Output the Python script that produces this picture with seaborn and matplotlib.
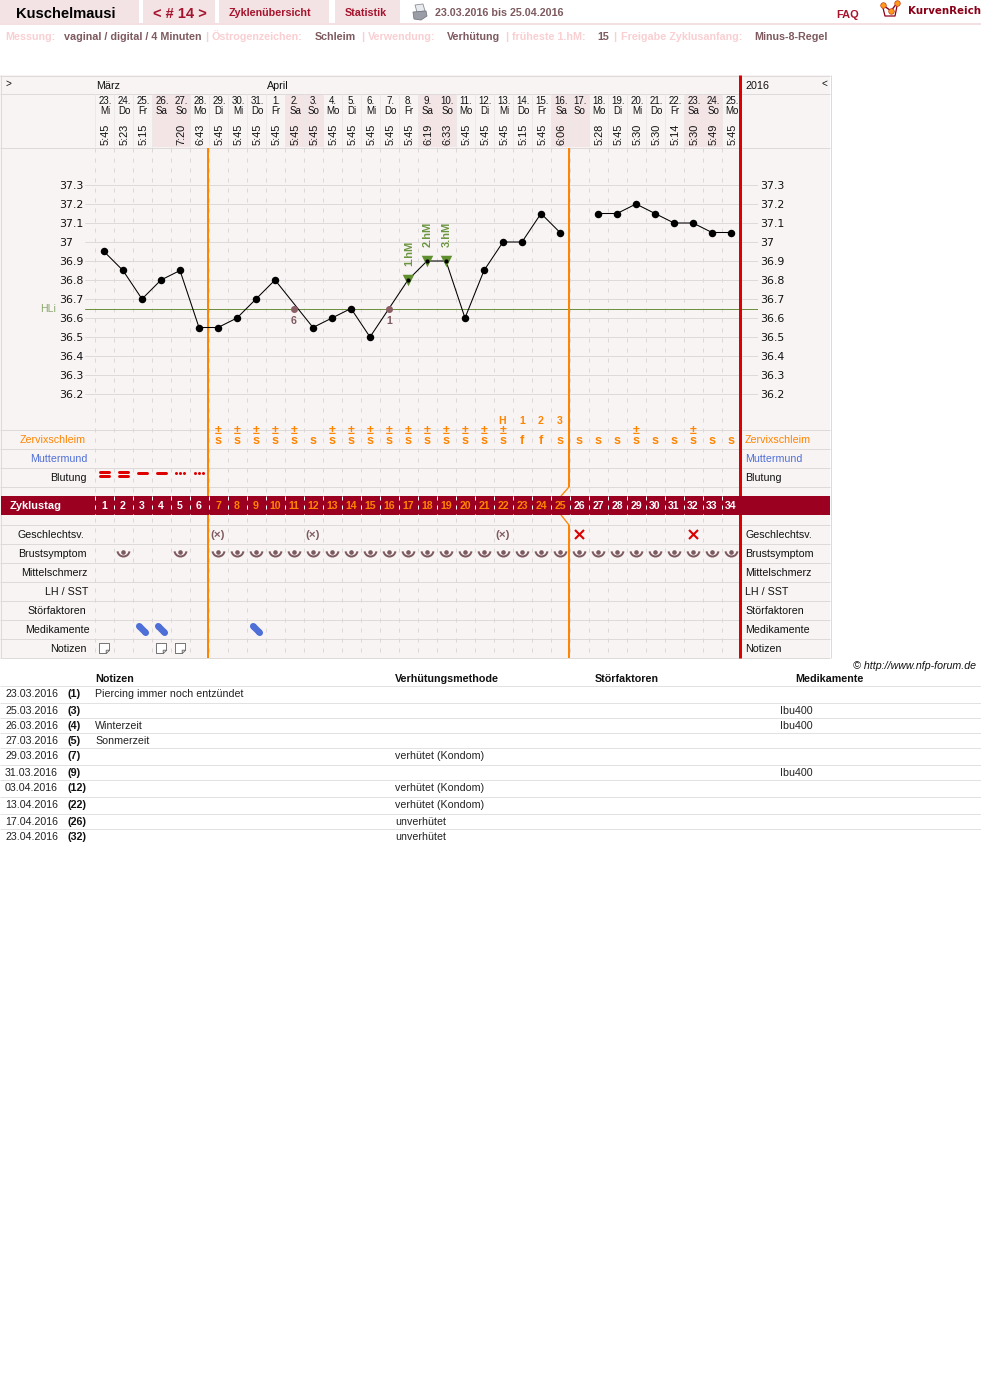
import numpy as np
import pandas as pd
import matplotlib
matplotlib.use("Agg")
import matplotlib.pyplot as plt
from matplotlib.path import Path
from matplotlib.patches import Rectangle, Polygon
from matplotlib.transforms import Affine2D
import seaborn as sns

# ---------- data ----------
cycle_days = list(range(1, 35))
month_days = [23, 24, 25, 26, 27, 28, 29, 30, 31, 1, 2, 3, 4, 5, 6, 7, 8, 9, 10, 11, 12, 13, 14, 15, 16, 17, 18, 19, 20, 21, 22, 23, 24, 25]
weekdays = ["Mi", "Do", "Fr", "Sa", "So", "Mo", "Di", "Mi", "Do", "Fr", "Sa", "So", "Mo", "Di", "Mi", "Do", "Fr", "Sa", "So", "Mo", "Di", "Mi", "Do", "Fr", "Sa", "So", "Mo", "Di", "Mi", "Do", "Fr", "Sa", "So", "Mo"]
times = ["5:45", "5:23", "5:15", "", "7:20", "6:43", "5:45", "5:45", "5:45", "5:45", "5:45", "5:45", "5:45", "5:45", "5:45", "5:45", "5:45", "6:19", "6:33", "5:45", "5:45", "5:45", "5:15", "5:45", "6:06", "", "5:28", "5:45", "5:30", "5:30", "5:14", "5:30", "5:49", "5:45"]
temps = [36.95, 36.85, 36.70, 36.80, 36.85, 36.55, 36.55, 36.60, 36.70, 36.80, np.nan, 36.55, 36.60, 36.65, 36.50, np.nan, 36.80, 36.90, 36.90, 36.60, 36.85, 37.00, 37.00, 37.15, 37.05, np.nan, 37.15, 37.15, 37.20, 37.15, 37.10, 37.10, 37.05, 37.05]
gap_days = [26]
excluded_days = [11, 16]
excluded_temps = [36.65, 36.65]
excluded_labels = ["6", "1"]
hm_days = [17, 18, 19]
hm_labels = ["1.hM", "2.hM", "3.hM"]
hm_temps = [36.80, 36.90, 36.90]
cover_line = 36.645
y_ticks = [37.3, 37.2, 37.1, 37.0, 36.9, 36.8, 36.7, 36.6, 36.5, 36.4, 36.3, 36.2]
y_labels = ["37.3", "37.2", "37.1", "37", "36.9", "36.8", "36.7", "36.6", "36.5", "36.4", "36.3", "36.2"]
mucus = ["", "", "", "", "", "", "s+", "s+", "s+", "s+", "s+", "s", "s+", "s+", "s+", "s+", "s+", "s+", "s+", "s+", "s+", "s+", "f", "f", "s", "s", "s", "s", "s+", "s", "s", "s+", "s", "s"]
peak_days = [22, 23, 24, 25]
peak_labels = ["H", "1", "2", "3"]
bleed_heavy = [1, 2]
bleed_medium = [3, 4]
bleed_light = [5, 6]
sex_protected = [7, 12, 22]
sex_unprotected = [26, 32]
breast_days = [2, 5] + list(range(7, 35))
med_days = [3, 4, 9]
note_days = [1, 4, 5]
orange_days = list(range(7, 26))
row_names = ["Zervixschleim", "Muttermund", "Blutung", "Geschlechtsv.", "Brustsymptom", "Mittelschmerz", "LH / SST", "Störfaktoren", "Medikamente", "Notizen"]
table_dates = ["23.03.2016", "25.03.2016", "26.03.2016", "27.03.2016", "29.03.2016", "31.03.2016", "03.04.2016", "13.04.2016", "17.04.2016", "23.04.2016"]
table_days = ["(1)", "(3)", "(4)", "(5)", "(7)", "(9)", "(12)", "(22)", "(26)", "(32)"]
table_notes = ["Piercing immer noch entzündet", "", "Winterzeit", "Sonmerzeit", "", "", "", "", "", ""]
table_methods = ["", "", "", "", "verhütet (Kondom)", "", "verhütet (Kondom)", "verhütet (Kondom)", "unverhütet", "unverhütet"]
table_meds = ["", "Ibu400", "Ibu400", "", "", "Ibu400", "", "", "", ""]

# ---------- style ----------
sns.set_theme(style="white")
plt.rcParams["font.family"] = ["Liberation Sans", "DejaVu Sans"]
plt.rcParams["axes.linewidth"] = 0

W, H = 981, 1377
PANEL = "#f9f4f4"
WEEKEND = "#f3e4e6"
GRID = "#dcd8d8"
ORANGE = "#ff8400"
RED = "#dd0000"
WINE = "#9c0021"
MAUVE = "#7d5a5f"
PALE = "#f9cfd2"
BLUE = "#4f6fd8"
GREEN = "#5f8f2f"
PX = 0.72

fig = plt.figure(figsize=(W / 100, H / 100), dpi=100, facecolor="white")
page = fig.add_axes([0, 0, 1, 1])
page.set_xlim(0, W)
page.set_ylim(H, 0)
page.axis("off")


def dx(d):
    return 104 + 19 * (np.asarray(d, dtype=float) - 1)


def T(x, y, s, size=10.65, color="#111111", weight="normal", ha="left", **kw):
    """Text whose visual centre sits at y (sizes in px)."""
    return page.text(x, y + size * 0.36, s, fontsize=size * PX, color=color, fontweight=weight,
                     ha=ha, va="baseline", **kw)


def rect(x0, y0, x1, y1, color, z=1):
    page.add_patch(Rectangle((x0, y0), x1 - x0, y1 - y0, facecolor=color, edgecolor="none", zorder=z))


# ---------- top bar ----------
for x0, x1 in [(0, 139), (143, 215), (219, 329), (335, 400)]:
    rect(x0, 0, x1, 23, "#f3e3e5")
rect(0, 23, W, 25, "#f4dfe2")
T(16, 12.5, "Kuschelmausi", 14.8, "#000000", "bold")
T(153, 12.5, "< # 14 >", 14.6, "#a5142c", "bold")
T(229, 12, "Zyklenübersicht", 10.8, "#a5142c", "bold")
T(345, 12, "Statistik", 10.8, "#a5142c", "bold")
T(435, 12, "23.03.2016 bis 25.04.2016", 10.8, MAUVE, "bold")
T(836, 14, "FAQ", 11, "#a5142c", "bold")
page.text(908, 13.5, "KurvenReich", fontsize=10.3 * PX, color="#8b0018", fontweight="bold",
          family=["DejaVu Sans"], ha="left", va="baseline")
# printer icon
page.add_patch(Polygon([(415, 5), (423, 4), (425, 11), (417, 12)], fc="#e8eaee", ec="#8a8f99", lw=0.6, zorder=3))
page.add_patch(Polygon([(413, 12), (426, 11), (427, 16), (421, 20), (414, 19)], fc="#9a9da5", ec="#777a82", lw=0.6, zorder=3))
# logo
page.plot([883, 885, 895, 897], [8, 16, 16, 6], color="#8b0018", lw=0.9, zorder=3)
page.plot([883, 891, 897], [5, 11, 3], color="#8b0018", lw=1, zorder=3)
page.plot([883, 891, 897], [5, 11, 3], ls="none", marker="o", ms=4, mfc="#ff9a1a", mec="#c83a10", mew=0.5, zorder=4)

meta = [(5, "Messung:", 0), (64, "vaginal / digital / 4 Minuten", 1), (205, "|", 0), (212, "Östrogenzeichen:", 0),
        (315, "Schleim", 1), (361, "|", 0), (368, "Verwendung:", 0), (447, "Verhütung", 1), (505, "|", 0),
        (512, "früheste 1.hM:", 0), (597, "15", 1), (613, "|", 0), (621, "Freigabe Zyklusanfang:", 0), (754, "Minus-8-Regel", 1)]
for x, s, strong in meta:
    T(x, 36, s, 10.7, MAUVE if strong else PALE, "bold")

# ---------- panel ----------
rect(0, 75, 830, 658, PANEL, 0)
for x in dx(cycle_days):
    if weekdays[int((x - 104) / 19)] in ("Sa", "So"):
        rect(x - 9.5, 94, x + 9.5, 147, WEEKEND, 0.5)
rows_y = [429.5, 448.5, 467.5, 486.5, 524.5, 543.5, 562.5, 581.5, 600.5, 619.5, 638.5, 657.5]
page.hlines([75.5, 93.5, 147.5] + rows_y, 0, 830, color="#dedada", lw=1.0 * PX, zorder=1)
page.vlines([0.5, 830.5], 75, 658, color="#dedada", lw=1.0 * PX, zorder=1)
col_edges = dx(cycle_days) - 9.5
page.vlines(col_edges, 94, 147, color="#ece8e8", lw=PX, zorder=1)
page.vlines(col_edges, 148, 658, color=GRID, lw=PX, linestyles=[(0, (4, 6))], zorder=1)

# header labels
T(5, 83, ">", 10)
T(821, 83, "<", 10)
T(96, 85, "März", 10.8)
T(267, 85, "April", 10.8)
T(745, 85, "2016", 10.8)
for d, md, wd, tm in zip(cycle_days, month_days, weekdays, times):
    x = dx(d) + 1
    for yy, s in ((101, f"{md}."), (111, wd)):
        page.text(x, yy + 3.5, s, fontsize=9.8 * PX, ha="center", va="baseline", color="#111111",
                  family=["Liberation Sans Narrow", "Liberation Sans"])
    if tm:
        page.text(dx(d) + 1.5, 134, tm, fontsize=11 * PX, rotation=90, ha="center", va="center", color="#111111")

# orange / red verticals
page.vlines(dx(6.5) - 0.5, 148, 658, color=ORANGE, lw=2 * PX, zorder=3)
page.vlines(dx(25.5) - 0.5, 148, 487, color=ORANGE, lw=2 * PX, zorder=3)
page.vlines(dx(25.5) - 0.5, 525, 658, color=ORANGE, lw=2 * PX, zorder=3)
page.plot(dx([25.5, 25.08]) - 0.5, [487, 496], color=ORANGE, lw=1.3 * PX, zorder=3)
page.plot(dx([25.08, 25.5]) - 0.5, [515, 525], color=ORANGE, lw=1.3 * PX, zorder=3)
page.vlines(dx(34.5) - 0.5, 75, 658, color=RED, lw=3 * PX, zorder=3)

# cycle-day band
rect(1, 496, 830, 515, WINE, 4)
page.vlines(col_edges, 496, 515, color="white", lw=PX, linestyles=[(0, (4, 5))], zorder=5)
T(10, 505.5, "Zyklustag", 11, "white", "bold", zorder=6)
for d in cycle_days:
    T(dx(d), 505.5, str(d), 10.5, ORANGE if d in orange_days else "white", "bold", ha="center", zorder=6)

# row labels
row_y = [439, 458, 477, 534, 553, 572, 591, 610, 629, 648]
row_x = [20, 30, 50, 18, 18, 21, 45, 27, 25, 50]
row_col = [ORANGE, BLUE] + ["#111111"] * 8
for name, y, x, c in zip(row_names, row_y, row_x, row_col):
    T(x, y, name, 10.65, c)
    T(745, y, name, 10.65, c)

# mucus
for d, m in zip(cycle_days, mucus):
    if not m:
        continue
    label = "±\n" + m[0] if m.endswith("+") else m[0]
    page.text(dx(d), 444.5, label, fontsize=12.5 * PX, color=ORANGE, fontweight="bold", ha="center", va="baseline",
              linespacing=0.78, zorder=5)
for d, s in zip(peak_days, peak_labels):
    T(dx(d) - (1 if s == "H" else 0), 420, s, 10.5, ORANGE, "bold", ha="center", zorder=5)

# bleeding
for d in bleed_heavy:
    page.hlines([472.4, 476], dx(d) - 4.5, dx(d) + 4.5, color=RED, lw=3 * PX, capstyle="round", zorder=4)
for d in bleed_medium:
    page.hlines(472.5, dx(d) - 4.5, dx(d) + 4.5, color=RED, lw=3 * PX, capstyle="round", zorder=4)
for d in bleed_light:
    page.plot(dx(d) + np.array([-3.6, 0, 3.6]), [472.5] * 3, ls="none", marker="o", ms=3 * PX, mew=0, color=RED, zorder=4)

# intercourse
for d in sex_protected:
    page.text(dx(d), 537.5, "(×)", fontsize=11.5 * PX, color=MAUVE, ha="center", va="baseline", fontweight="bold", zorder=5)
sns.scatterplot(x=dx(sex_unprotected), y=[534] * len(sex_unprotected), ax=page, marker="x", s=(9 * PX) ** 2,
                color=RED, linewidth=2.1 * PX, zorder=5, legend=False)

# breast symptom
arc = Path.arc(188, 352)
page.plot(dx(breast_days), [550] * len(breast_days), ls="none", marker=arc, ms=12 * PX, mfc="none", mec=MAUVE, mew=2 * PX, zorder=5)
page.plot(dx(breast_days), [551.5] * len(breast_days), ls="none", marker="o", ms=4.6 * PX, color=MAUVE, mew=0, zorder=5)

# medication
circle = Path.circle((0, 0), 1)
def place(path, tx, ty, s=1.0):
    return path.transformed(Affine2D().scale(s).translate(tx, ty))
pill = Path.make_compound_path(
    place(circle, -0.62, 0.62, 0.62), place(circle, 0.62, -0.62, 0.62),
    Path([(-1.06, 0.18), (0.18, -1.06), (1.06, -0.18), (-0.18, 1.06), (-1.06, 0.18)], closed=True))
page.plot(dx(med_days), [628.5] * len(med_days), ls="none", marker=pill, ms=13 * PX, color=BLUE, mew=0, zorder=5)

# notes
note = Path.make_compound_path(
    Path([(-1, 1), (1, 1), (1, -0.35), (0.35, -1), (-1, -1), (-1, 1)]),
    Path([(0.35, -1), (0.35, -0.35), (1, -0.35)]))
page.plot(dx(note_days), [647.7] * len(note_days), ls="none", marker=note, ms=10 * PX, mfc="white", mec="#777777", mew=1 * PX, zorder=5)

# ---------- temperature axes ----------
left, right, top, bottom = 85, 758, 148, 430
ax = fig.add_axes([left / W, 1 - bottom / H, (right - left) / W, (bottom - top) / H], facecolor="none", zorder=3)
ax.set_xlim(1 + (left - 104) / 19, 1 + (right - 104) / 19)
ax.set_ylim(37.3 - (bottom - 185) / 190, 37.3 + (185 - top) / 190)
ax.set_yticks(y_ticks)
ax.set_xticks([])
ax.set_yticklabels([])
ax.tick_params(left=False, bottom=False)
ax.grid(True, axis="y", color="#dedada", lw=PX)
ax.set_axisbelow(True)

df = pd.DataFrame({"day": cycle_days, "temp": temps})
df["segment"] = df["day"].isin(gap_days).cumsum()
valid = df.dropna()
hm_mask = valid["day"].isin(hm_days)
ax.axhline(cover_line, color="#6e9040", lw=1 * PX, zorder=2)
for v, c, w in ((6.5, ORANGE, 2), (25.5, ORANGE, 2), (34.5, RED, 3)):
    ax.axvline(v - 0.5 / 19, color=c, lw=w * PX, zorder=3)
sns.lineplot(data=valid, x="day", y="temp", units="segment", estimator=None, color="black", lw=1.05 * PX, ax=ax, zorder=4, legend=False)
sns.scatterplot(data=valid[~hm_mask], x="day", y="temp", color="black", s=(7.5 * PX) ** 2, linewidth=0, ax=ax, zorder=6, legend=False)
sns.scatterplot(x=hm_days, y=hm_temps, marker="v", color=GREEN, s=(11.5 * PX) ** 2, linewidth=0, ax=ax, zorder=5, legend=False)
sns.scatterplot(x=hm_days, y=hm_temps, color="black", s=(4.2 * PX) ** 2, linewidth=0, ax=ax, zorder=6, legend=False)
sns.scatterplot(x=excluded_days, y=excluded_temps, color="#8a5f66", s=(7 * PX) ** 2, linewidth=0, ax=ax, zorder=5, legend=False)
ax.set_xlabel("")
ax.set_ylabel("")
for d, t, s in zip(excluded_days, excluded_temps, excluded_labels):
    ax.annotate(s, (d, t), xytext=(0, -16 * PX), textcoords="offset points", ha="center", va="baseline",
                fontsize=10.5 * PX, color=MAUVE, fontweight="bold", annotation_clip=False)
for d, t, s in zip(hm_days, hm_temps, hm_labels):
    ax.annotate(s, (d, t), xytext=(1 * PX, 14 * PX), textcoords="offset points", ha="center", va="bottom",
                rotation=90, fontsize=11 * PX, color="#6a9540", fontweight="bold", annotation_clip=False)
for t, s in zip(y_ticks, y_labels):
    for px_x in (59.5, 760.5):
        ax.text(1 + (px_x - 104) / 19, t - 0.005, s, fontsize=11 * PX, color="#111111", ha="left", va="center",
                family=["DejaVu Sans"], clip_on=False)
ax.text(1 + (40 - 104) / 19, cover_line, "HLi", fontsize=10.5 * PX, color="#8aa86c", ha="left", va="center", clip_on=False)

# ---------- bottom table ----------
T(976, 665, "© http://www.nfp-forum.de", 10.65, "#111111", ha="right", style="italic")
for x, s in [(95, "Notizen"), (395, "Verhütungsmethode"), (595, "Störfaktoren"), (795, "Medikamente")]:
    T(x, 678, s, 10.7, "#111111", "bold")
page.hlines([685.5, 702.5, 717.5, 732.5, 747.5, 764.5, 779.5, 796.5, 813.5, 828.5], 0, W, color="#e2e2e2", lw=1 * PX, zorder=1)
table_y = [693, 710, 725, 740, 755, 772, 787, 804, 821, 836]
for y, a, b, c, m, k in zip(table_y, table_dates, table_days, table_notes, table_methods, table_meds):
    T(5, y, a, 10.65, "#222222")
    T(68, y, b, 10.65, "#111111", "bold")
    T(95, y, c, 10.65, "#222222")
    T(395, y, m, 10.65, "#222222")
    T(780, y, k, 10.65, "#222222")

fig.savefig("out.png", dpi=100, facecolor="white")
